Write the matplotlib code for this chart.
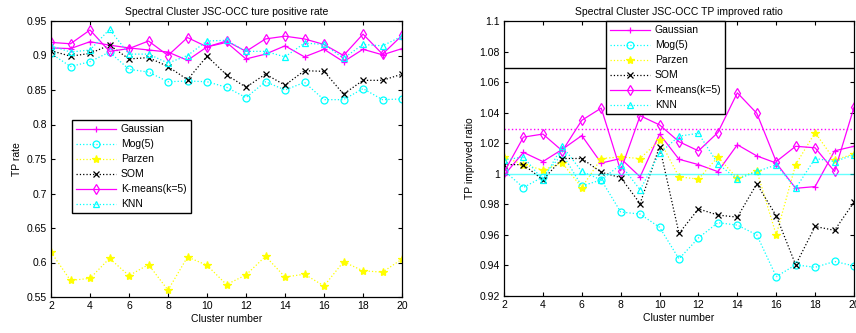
import matplotlib
matplotlib.use("Agg")
import matplotlib.pyplot as plt
import numpy as np

plt.rcParams['font.family'] = ['Liberation Sans', 'DejaVu Sans']
plt.rcParams['font.size'] = 7.5

clusters = list(range(2, 21))

# Left: TP rate
gauss_tp = [0.911, 0.910, 0.920, 0.915, 0.911, 0.908, 0.905, 0.893, 0.9125, 0.919,
            0.895, 0.902, 0.914, 0.898, 0.909, 0.891, 0.909, 0.901, 0.910]
mog_tp = [0.903, 0.884, 0.891, 0.905, 0.880, 0.876, 0.862, 0.863, 0.862, 0.854,
          0.839, 0.862, 0.850, 0.861, 0.836, 0.836, 0.852, 0.836, 0.837]
parzen_tp = [0.615, 0.574, 0.577, 0.606, 0.581, 0.597, 0.560, 0.608, 0.596, 0.568,
             0.582, 0.609, 0.579, 0.583, 0.566, 0.601, 0.588, 0.586, 0.605]
som_tp = [0.907, 0.899, 0.903, 0.915, 0.895, 0.897, 0.884, 0.865, 0.899, 0.872,
          0.854, 0.873, 0.857, 0.878, 0.877, 0.844, 0.864, 0.864, 0.873]
kmeans_tp = [0.919, 0.917, 0.937, 0.906, 0.910, 0.921, 0.900, 0.926, 0.9125, 0.921,
             0.906, 0.924, 0.928, 0.924, 0.916, 0.900, 0.931, 0.902, 0.929]
knn_tp = [0.914, 0.905, 0.908, 0.938, 0.902, 0.902, 0.889, 0.900, 0.921, 0.922,
          0.906, 0.906, 0.898, 0.918, 0.916, 0.896, 0.916, 0.914, 0.928]

# Right: TP improved ratio
gauss_r = [0.999, 1.014, 1.008, 1.016, 1.025, 1.007, 1.010, 0.998, 1.026, 1.0095,
           1.006, 1.0014, 1.019, 1.0117, 1.007, 0.9905, 0.9916, 1.015, 1.018]
mog_r = [1.002, 0.991, 0.998, 1.013, 0.992, 0.996, 0.975, 0.9736, 0.965, 0.9443,
         0.958, 0.968, 0.9664, 0.960, 0.9327, 0.9404, 0.9388, 0.9426, 0.9397]
parzen_r = [1.011, 1.006, 1.0025, 1.007, 0.991, 1.010, 1.011, 1.010, 1.022, 0.998,
            0.9965, 1.011, 0.997, 1.002, 0.960, 1.006, 1.027, 1.009, 1.013]
som_r = [1.006, 1.006, 0.996, 1.010, 1.010, 1.001, 0.9975, 0.9805, 1.0178, 0.961,
         0.977, 0.973, 0.9716, 0.9934, 0.9725, 0.9404, 0.9655, 0.963, 0.9814]
kmeans_r = [1.001, 1.024, 1.026, 1.015, 1.035, 1.043, 1.002, 1.038, 1.032, 1.021,
            1.015, 1.027, 1.053, 1.0396, 1.008, 1.018, 1.017, 1.0015, 1.0435]
knn_r = [1.009, 1.011, 0.996, 1.018, 1.0015, 0.996, 1.006, 0.9895, 1.0134, 1.0246,
         1.0265, 1.0065, 0.9964, 1.0015, 1.0058, 0.9905, 1.010, 1.008, 1.0124]

ref_black = 1.0695
ref_magenta = 1.029
ref_cyan = 1.0

labels = ['Gaussian', 'Mog(5)', 'Parzen', 'SOM', 'K-means(k=5)', 'KNN']
styles = [
    dict(color='#ff00ff', ls='-', marker='+', mfc='none', ms=5),
    dict(color='#00ffff', ls=':', marker='o', mfc='none', ms=5),
    dict(color='#ffff00', ls=':', marker='*', mfc='#ffff00', ms=6),
    dict(color='black', ls=':', marker='x', mfc='none', ms=4.5),
    dict(color='#ff00ff', ls='-', marker='d', mfc='none', ms=5),
    dict(color='#00ffff', ls=':', marker='^', mfc='none', ms=5),
]

fig = plt.figure(figsize=(8.56, 3.33), dpi=100)
W, H = 856, 333
ax1 = fig.add_axes([51 / W, 1 - 297 / H, 351 / W, 276 / H])
ax2 = fig.add_axes([504 / W, 1 - 296 / H, 350 / W, 275 / H])

for ax, series in ((ax1, [gauss_tp, mog_tp, parzen_tp, som_tp, kmeans_tp, knn_tp]),
                   (ax2, [gauss_r, mog_r, parzen_r, som_r, kmeans_r, knn_r])):
    for lab, ys, st in zip(labels, series, styles):
        ax.plot(clusters, ys, label=lab, lw=0.9, mew=0.9,
                color=st['color'], ls=st['ls'], marker=st['marker'],
                mfc=st['mfc'], ms=st['ms'])

ax2.axhline(ref_black, color='black', lw=1.0, ls='-')
ax2.axhline(ref_magenta, color='#ff00ff', lw=1.0, ls=':')
ax2.axhline(ref_cyan, color='#00ffff', lw=1.0, ls='-', alpha=0.6)

ax1.set_xlim(2, 20)
ax1.set_ylim(0.55, 0.95)
ax1.set_yticks(np.arange(0.55, 0.951, 0.05))
ax1.set_yticklabels(['0.55', '0.6', '0.65', '0.7', '0.75', '0.8', '0.85', '0.9', '0.95'])
ax2.set_xlim(2, 20)
ax2.set_ylim(0.92, 1.1)
ax2.set_yticks(np.arange(0.92, 1.1001, 0.02))
ax2.set_yticklabels(['0.92', '0.94', '0.96', '0.98', '1', '1.02', '1.04', '1.06', '1.08', '1.1'])

for ax in (ax1, ax2):
    ax.set_xticks(range(2, 21, 2))
    ax.tick_params(direction='in', top=True, right=True, length=3, width=0.8,
                   labelsize=7.5, pad=3)
    for sp in ax.spines.values():
        sp.set_linewidth(0.9)
    ax.set_xlabel('Cluster number', fontsize=7.5, labelpad=2)

ax1.set_ylabel('TP rate', fontsize=7.5, labelpad=3)
ax2.set_ylabel('TP improved ratio', fontsize=7.5, labelpad=3)
ax1.set_title('Spectral Cluster JSC-OCC ture positive rate', fontsize=7.5, pad=4)
ax2.set_title('Spectral Cluster JSC-OCC TP improved ratio', fontsize=7.5, pad=4)

leg_kw = dict(fontsize=7.5, fancybox=False, edgecolor='black', framealpha=1,
              handlelength=3.8, borderpad=0.4, labelspacing=0.48, handletextpad=0.5,
              borderaxespad=0)
l1 = ax1.legend(loc='upper left', bbox_to_anchor=(72 / W, 1 - 120 / H),
                bbox_transform=fig.transFigure, **leg_kw)
l2 = ax2.legend(loc='upper left', bbox_to_anchor=(606 / W, 1 - 21 / H),
                bbox_transform=fig.transFigure, **leg_kw)
for l in (l1, l2):
    l.get_frame().set_linewidth(1.0)

fig.savefig('out.png', dpi=100)
